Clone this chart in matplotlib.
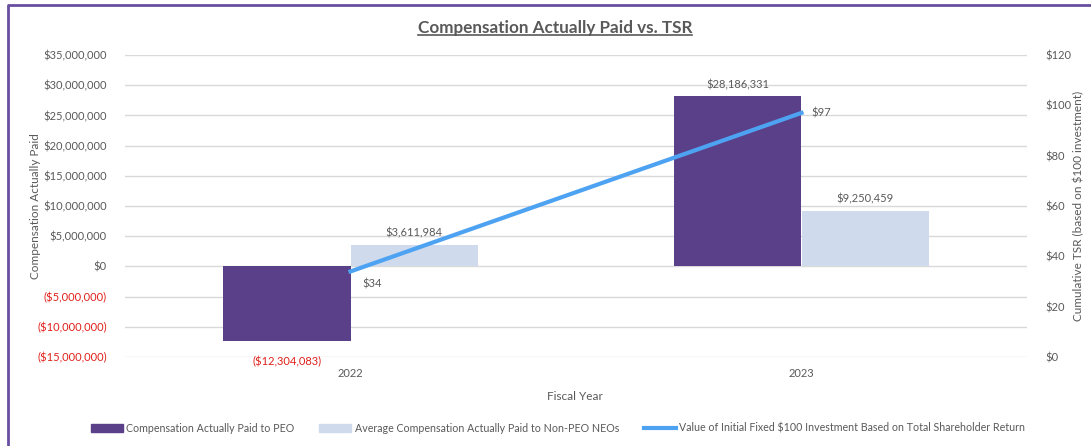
import matplotlib
matplotlib.use("Agg")
import matplotlib.pyplot as plt
import numpy as np
from matplotlib.lines import Line2D
from matplotlib.patches import Patch

plt.rcParams["font.family"] = ["Lato", "DejaVu Sans"]

# data
years = ["2022", "2023"]
cap_peo = [-12304083, 28186331]
cap_neo = [3611984, 9250459]
tsr = [34, 97]

left_ticks = [-15000000, -10000000, -5000000, 0, 5000000, 10000000, 15000000,
              20000000, 25000000, 30000000, 35000000]
right_ticks = [0, 20, 40, 60, 80, 100, 120]

c_peo = "#5A4088"
c_neo = "#CFDAED"
c_line = "#4DA3F2"
c_text = "#595959"
c_red = "#E0201B"
fs = 8


def money(v):
    if v < 0:
        return f"(${-v:,.0f})"
    return f"${v:,.0f}"


W, H = 1091, 446
fig = plt.figure(figsize=(W / 100, H / 100), dpi=100)
ax = fig.add_axes([125 / W, 1 - 357 / H, 902 / W, 302 / H])
ax2 = ax.twinx()

x = np.arange(len(years))
bw = 0.283
ax.bar(x - bw / 2, cap_peo, bw, color=c_peo, zorder=2)
ax.bar(x + bw / 2, cap_neo, bw, color=c_neo, zorder=2)

ax.set_xlim(-0.5, 1.5)
ax.set_ylim(-15000000, 35000000)
ax.set_yticks(left_ticks)
ax.set_yticklabels([money(v) for v in left_ticks])
for lab, v in zip(ax.get_yticklabels(), left_ticks):
    lab.set_color(c_red if v < 0 else c_text)
ax.set_xticks(x)
ax.set_xticklabels(years, color=c_text)
ax.tick_params(axis="both", length=0, labelsize=fs, pad=13)
ax.tick_params(axis="x", pad=8)
ax.grid(axis="y", color="#D9D9D9", lw=1, zorder=0)
ax.set_axisbelow(True)
for s in ax.spines.values():
    s.set_visible(False)
ax.set_ylabel("Compensation Actually Paid", color=c_text, fontsize=8.5)
ax.yaxis.set_label_coords((41 - 125) / 902, 0.5)
ax.set_xlabel("Fiscal Year", color=c_text, fontsize=8.5)
ax.xaxis.set_label_coords((575 - 125) / 902, -(391 - 357) / 302)

# data labels on bars
for i in range(len(years)):
    v = cap_peo[i]
    if v < 0:
        ax.text(x[i] - bw / 2, v - 2600000, money(v), ha="center", va="top",
                color=c_red, fontsize=fs)
    else:
        ax.text(x[i] - bw / 2, v + 1000000, money(v), ha="center", va="bottom",
                color=c_text, fontsize=fs)
    ax.text(x[i] + bw / 2, cap_neo[i] + 1000000, money(cap_neo[i]), ha="center",
            va="bottom", color=c_text, fontsize=fs)

ax2.plot(x, tsr, color=c_line, lw=3, zorder=3)
ax2.set_ylim(0, 120)
ax2.set_yticks(right_ticks)
ax2.set_yticklabels([f"${v}" for v in right_ticks], color=c_text)
ax2.tick_params(axis="y", length=0, labelsize=fs, pad=13)
for s in ax2.spines.values():
    s.set_visible(False)
ax2.set_ylabel("Cumulative TSR (based on $100 investment)", color=c_text,
               fontsize=8.5)
ax2.yaxis.set_label_coords((1073 - 125) / 902, 0.5)
ax2.text(x[0] + 0.027, tsr[0] - 3, f"${tsr[0]}", ha="left", va="top",
         color=c_text, fontsize=fs)
ax2.text(x[1] + 0.022, tsr[1], f"${tsr[1]}", ha="left", va="center",
         color=c_text, fontsize=fs)

# title with underline
title = fig.text(555 / W, 1 - 28 / H, "Compensation Actually Paid vs. TSR",
                 ha="center", va="center", fontsize=12.3, fontweight="bold",
                 color=c_text)
fig.canvas.draw()
bb = title.get_window_extent().transformed(fig.transFigure.inverted())
fig.add_artist(Line2D([bb.x0, bb.x1], [bb.y0 + 0.002, bb.y0 + 0.002],
                      transform=fig.transFigure, color=c_text, lw=1.2))

handles = [Patch(color=c_peo), Patch(color=c_neo), Line2D([], [], color=c_line, lw=3)]
labels = ["Compensation Actually Paid to PEO",
          "Average Compensation Actually Paid to Non-PEO NEOs",
          "Value of Initial Fixed $100 Investment Based on Total Shareholder Return"]
fig.legend(handles, labels, loc="center", bbox_to_anchor=(558 / W, 1 - 428 / H),
           ncol=3, frameon=False, fontsize=7.7, labelcolor=c_text,
           handlelength=3.0, handleheight=0.8, handletextpad=0.3, columnspacing=2.3)

# border
fig.add_artist(Line2D([8 / W, 8 / W, 1], [0, 1 - 5 / H, 1 - 5 / H],
                      transform=fig.transFigure, color="#6A4FA0", lw=2))

fig.savefig("out.png", dpi=100)
